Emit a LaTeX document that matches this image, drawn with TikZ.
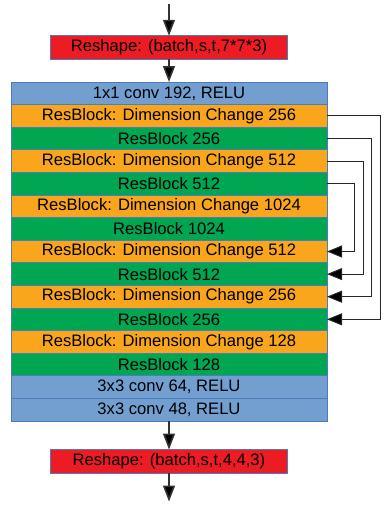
\documentclass[tikz,border=0pt]{standalone}
\usepackage{fontspec}
\setmainfont{Liberation Sans}
\usepackage{tikz}
\usetikzlibrary{arrows.meta,positioning}
\definecolor{convBlue}{HTML}{729FCF}
\definecolor{layerEdge}{HTML}{4A7EBB}
\definecolor{dimOrange}{HTML}{F9A61C}
\definecolor{resGreen}{HTML}{00A651}
\definecolor{reshapeRed}{HTML}{ED1C24}
\definecolor{arrowGray}{HTML}{333333}
\tikzset{
  layer/.style={draw=layerEdge, line width=0.8pt, minimum width=316pt,
    minimum height=22.6pt, inner sep=0pt, outer sep=0pt,
    font=\fontsize{16.6}{18}\selectfont},
  conv layer/.style={layer, fill=convBlue},
  dim block/.style={layer, fill=dimOrange},
  res block/.style={layer, fill=resGreen},
  reshape box/.style={layer, fill=reshapeRed, minimum width=237pt,
    minimum height=23.5pt},
  flow/.style={-{Triangle[length=16pt,width=12pt,fill=black]}, line width=1.6pt,
    draw=arrowGray},
  skip/.style={-{Triangle[length=15pt,width=12pt,fill=black]}, line width=1pt,
    draw=black!85}
}
\begin{document}
\begin{tikzpicture}[x=1pt,y=1pt]
  \useasboundingbox (0,0) rectangle (390,-517);
  \coordinate (in) at (169,-4);
  \node[reshape box] (reshapeIn) at (169,-47.5) {Reshape: (batch,s,t,7*7*3)};
  \node[conv layer] (conv192) at (169,-93.3) {1x1 conv 192, RELU};
  \node[dim block, below=0pt of conv192] (dc256a) {ResBlock: Dimension Change 256};
  \node[res block, below=0pt of dc256a] (rb256a) {ResBlock 256};
  \node[dim block, below=0pt of rb256a] (dc512a) {ResBlock: Dimension Change 512};
  \node[res block, below=0pt of dc512a] (rb512a) {ResBlock 512};
  \node[dim block, below=0pt of rb512a] (dc1024) {ResBlock: Dimension Change 1024};
  \node[res block, below=0pt of dc1024] (rb1024) {ResBlock 1024};
  \node[dim block, below=0pt of rb1024] (dc512b) {ResBlock: Dimension Change 512};
  \node[res block, below=0pt of dc512b] (rb512b) {ResBlock 512};
  \node[dim block, below=0pt of rb512b] (dc256b) {ResBlock: Dimension Change 256};
  \node[res block, below=0pt of dc256b] (rb256b) {ResBlock 256};
  \node[dim block, below=0pt of rb256b] (dc128) {ResBlock: Dimension Change 128};
  \node[res block, below=0pt of dc128] (rb128) {ResBlock 128};
  \node[conv layer, below=0pt of rb128] (conv64) {3x3 conv 64, RELU};
  \node[conv layer, below=0pt of conv64] (conv48) {3x3 conv 48, RELU};
  \node[reshape box, below=28.5pt of conv48] (reshapeOut) {Reshape: (batch,s,t,4,4,3)};
  \coordinate (out) at (169,-501.5);
  % main path
  \draw[flow] (in) -- (reshapeIn);
  \draw[flow] (reshapeIn) -- (conv192);
  \draw[flow] (conv48) -- (reshapeOut);
  \draw[flow] (reshapeOut) -- (out);
  % skip connections
  \draw[skip] (dc256a.east) -- ++(53,0) |- (rb256b.east);
  \draw[skip] (rb256a.east) -- ++(44.5,0) |- (dc256b.east);
  \draw[skip] (dc512a.east) -- ++(36,0) |- (rb512b.east);
  \draw[skip] (rb512a.east) -- ++(27,0) |- (dc512b.east);
\end{tikzpicture}
\end{document}
